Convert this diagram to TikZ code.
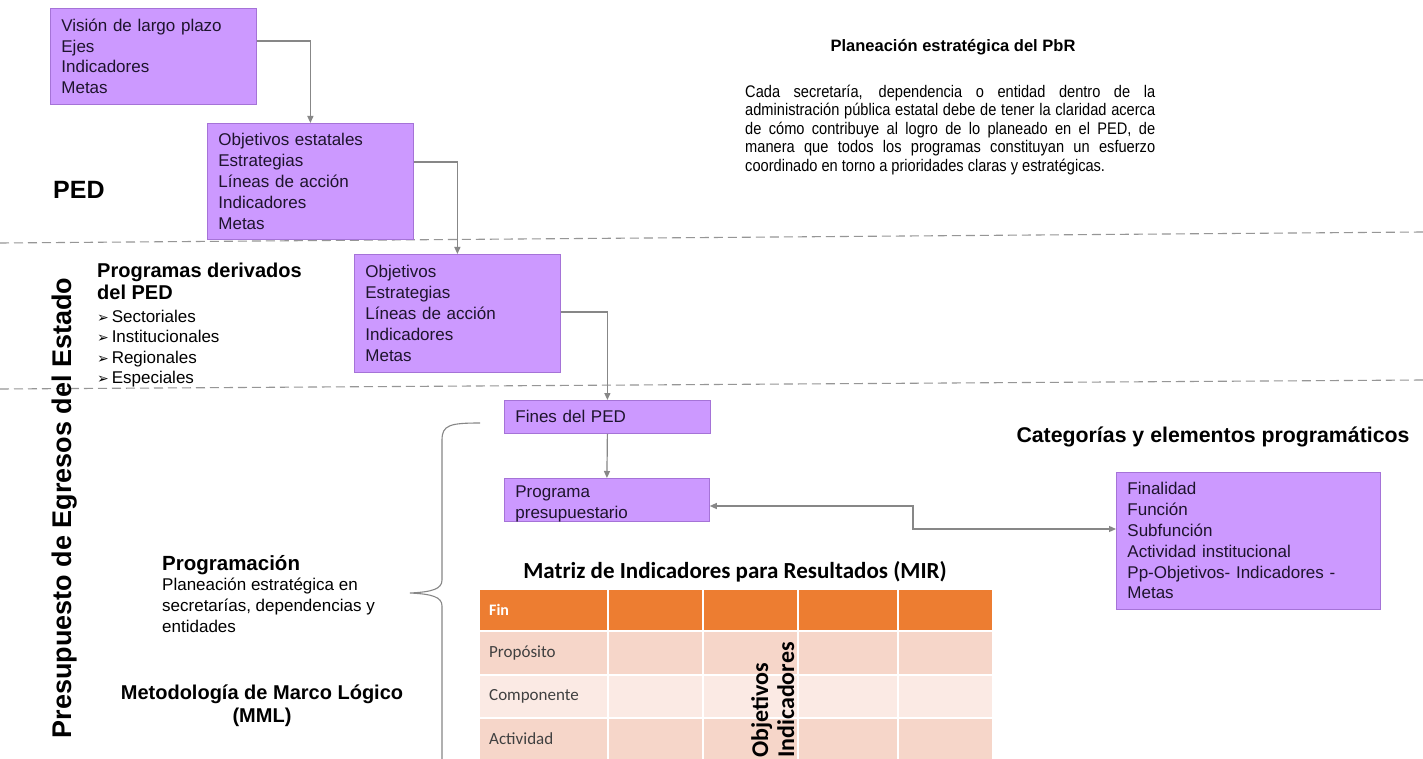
\documentclass[tikz,border=0pt]{standalone}
\usepackage{fontspec}
\setmainfont{Liberation Sans}
\newfontfamily\narrowf[FakeStretch=0.87]{Liberation Sans}
\newfontfamily\calib{Carlito}
\newfontfamily\djv{DejaVu Sans}
\usetikzlibrary{arrows.meta}
\hyphenpenalty=10000
\exhyphenpenalty=10000
\definecolor{pfill}{RGB}{204,153,255}
\definecolor{pdraw}{RGB}{165,115,215}
\definecolor{ptext}{RGB}{30,20,45}
\definecolor{connc}{RGB}{135,135,135}
\definecolor{dashc}{RGB}{150,150,150}
\definecolor{mirhead}{RGB}{237,125,49}
\definecolor{mirA}{RGB}{246,214,201}
\definecolor{mirB}{RGB}{251,234,228}
\definecolor{mirtext}{RGB}{64,64,64}
\begin{document}
\begin{tikzpicture}[x=1pt,y=-1pt,
  pbox/.style={draw=pdraw, fill=pfill, line width=0.8pt, anchor=north west, align=left,
    inner xsep=11pt, inner ysep=0pt, text=ptext, font=\fontsize{17}{20.8}\selectfont},
  conn/.style={draw=connc, line width=1.2pt, -{Triangle[length=7pt,width=6pt]}},
  conn2/.style={draw=connc, line width=1.2pt, {Triangle[length=7pt,width=6pt]}-{Triangle[length=7pt,width=6pt]}},
  dline/.style={draw=dashc, line width=1.1pt, dash pattern=on 9pt off 5pt},
  bracec/.style={draw=connc, line width=1.1pt},
  hbold/.style={font=\bfseries\fontsize{20}{22}\selectfont, inner sep=0pt},
  reg/.style={font=\fontsize{17}{20.8}\selectfont, inner sep=0pt},
  bul/.style={font=\fontsize{17}{20.8}\selectfont, inner sep=0pt, anchor=base west},
  mirrow/.style={font=\calib\fontsize{17}{20}\selectfont, text=mirtext, anchor=west, inner sep=0pt}
]
\useasboundingbox (0,0) rectangle (1423,759);
\fill[white] (0,0) rectangle (1423,759);

% dashed separators
\draw[dline] (0,243) -- (1423,232);
\draw[dline] (0,389) -- (1423,380);

% purple boxes
\node[pbox, text width=184pt, minimum height=96pt] (b1) at (50,8)
  {Visión de largo plazo\\Ejes\\Indicadores\\Metas};
\node[pbox, text width=184pt, minimum height=116pt] (b2) at (207,123)
  {Objetivos estatales\\Estrategias\\Líneas de acción\\Indicadores\\Metas};
\node[pbox, text width=184pt, minimum height=118pt] (b3) at (354,254)
  {Objetivos\\Estrategias\\Líneas de acción\\Indicadores\\Metas};
\node[pbox, text width=184pt, minimum height=33pt] (fines) at (504,400)
  {Fines del PED};
\node[pbox, text width=183pt, minimum height=43pt] (prog) at (504,478)
  {\rule{0pt}{19pt}Programa\\presupuestario};
\node[pbox, text width=242pt, minimum height=137pt] (cat) at (1116,472)
  {Finalidad\\Función\\Subfunción\\Actividad institucional\\Pp-Objetivos- Indicadores -\\Metas};

% helper coordinates
\coordinate (y41) at (0,41);
\coordinate (y162) at (0,162);
\coordinate (y312) at (0,312);
\coordinate (y506) at (0,506);
\coordinate (y529) at (0,529);
\coordinate (x913) at (913,0);

% connectors
\draw[conn] (b1.east |- y41) -| (b2.north);
\draw[conn] (b2.east |- y162) -| (b3.north);
\draw[conn] (b3.east |- y312) -| (fines.north);
\draw[conn] (fines.south) -- (prog.north);
\draw[conn2] (prog.east |- y506) -- (x913 |- y506) -- (x913 |- y529) -- (cat.west |- y529);

% left texts
\node[font=\bfseries\fontsize{25}{28}\selectfont, anchor=west, inner sep=0pt] (ped) at (53,190) {PED};
\node[hbold, anchor=base west] (pdt1) at (97,277) {Programas derivados};
\node[hbold, anchor=base west] (pdt2) at (97,299) {del PED};
\node[bul] (bul1) at (97,322) {{\djv\fontsize{14}{14}\selectfont ➢}\,Sectoriales};
\node[bul] (bul2) at (97,342) {{\djv\fontsize{14}{14}\selectfont ➢}\,Institucionales};
\node[bul] (bul3) at (97,363) {{\djv\fontsize{14}{14}\selectfont ➢}\,Regionales};
\node[bul] (bul4) at (97,383) {{\djv\fontsize{14}{14}\selectfont ➢}\,Especiales};

\node[font=\bfseries\fontsize{27}{30}\selectfont, rotate=90, inner sep=0pt] (pres) at (65,508) {Presupuesto de Egresos del Estado};

\node[font=\bfseries\fontsize{20.5}{22}\selectfont, inner sep=0pt, anchor=base west] (progr) at (162,570) {Programación};
\node[reg, anchor=north west, align=left] (progt) at (162,578)
  {Planeación estratégica en\\secretarías, dependencias y\\entidades};

\node[inner sep=0pt, align=center, font=\bfseries\fontsize{20}{23}\selectfont] (mml) at (262,706)
  {Metodología de Marco Lógico\\(MML)};

% brace
\draw[bracec] (480,423) .. controls (450,423) and (442,425) .. (442,440) -- (442,580)
  .. controls (442,589) and (432,592) .. (410,593)
  .. controls (432,594) and (442,597) .. (442,606) -- (442,759);

% right texts
\node[font=\bfseries\fontsize{16.5}{20}\selectfont, inner sep=0pt] (ptitle) at (953,47) {Planeación estratégica del PbR};
\node[font=\narrowf\fontsize{16.8}{18.4}\selectfont, anchor=north west, text width=410pt, align=justify, inner sep=0pt] (ppar) at (745,85)
  {Cada secretaría, dependencia o entidad dentro de la\linebreak administración pública estatal debe de tener la claridad acerca\linebreak de cómo contribuye al logro de lo planeado en el PED, de\linebreak manera que todos los programas constituyan un esfuerzo\linebreak coordinado en torno a prioridades claras y estratégicas.};

\node[font=\bfseries\fontsize{21.3}{24}\selectfont, inner sep=0pt] (ctitle) at (1213,437) {Categorías y elementos programáticos};

% MIR
\node[font=\calib\bfseries\fontsize{23}{26}\selectfont, inner sep=0pt] (mirt) at (735,572) {Matriz de Indicadores para Resultados (MIR)};
\fill[mirhead] (480,590) rectangle (992,630);
\fill[mirA] (480,632) rectangle (992,674);
\fill[mirB] (480,676) rectangle (992,717);
\fill[mirA] (480,719) rectangle (992,759);
\foreach \xx in {608,703,798,898} \draw[white, line width=2pt] (\xx,590) -- (\xx,759);
\node[font=\calib\bfseries\fontsize{16}{18}\selectfont, text=white, anchor=west, inner sep=0pt] (fin) at (489,610) {Fin};
\node[mirrow] (prop) at (489,653) {Propósito};
\node[mirrow] (comp) at (489,696) {Componente};
\node[mirrow] (act) at (489,739) {Actividad};
\node[font=\calib\bfseries\fontsize{24}{26}\selectfont, rotate=90, anchor=north west, align=left, inner sep=0pt] (objind) at (751,758) {Objetivos\\Indicadores};
\end{tikzpicture}
\end{document}
